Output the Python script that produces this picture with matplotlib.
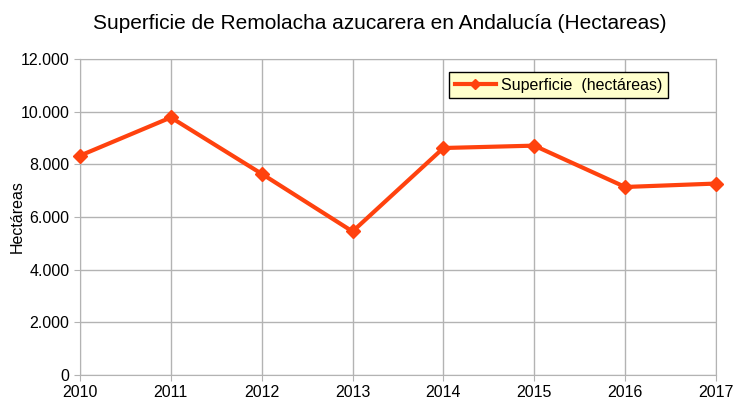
import matplotlib
matplotlib.use('Agg')
import matplotlib.pyplot as plt
from matplotlib.ticker import FuncFormatter

plt.rcParams['font.family'] = ['Liberation Sans', 'DejaVu Sans']

# datos
years = [2010, 2011, 2012, 2013, 2014, 2015, 2016, 2017]
superficie = [8330, 9780, 7640, 5450, 8620, 8710, 7140, 7270]
yticks = [0, 2000, 4000, 6000, 8000, 10000, 12000]

fig = plt.figure(figsize=(7.34, 4.03), dpi=100)
ax = fig.add_axes([80 / 734, 1 - 375 / 403, 636 / 734, 316 / 403])

ax.plot(years, superficie, color='#ff420e', lw=3, marker='D', ms=7,
        label='Superficie  (hectáreas)', clip_on=False, zorder=3)

ax.set_xlim(years[0], years[-1])
ax.set_ylim(0, 12000)
ax.set_xticks(years)
ax.set_yticks(yticks)
ax.yaxis.set_major_formatter(FuncFormatter(lambda v, p: '{:,.0f}'.format(v).replace(',', '.')))
ax.grid(True, color='#b3b3b3', lw=1)
ax.set_axisbelow(True)
for s in ax.spines.values():
    s.set_color('#b3b3b3')
ax.tick_params(colors='#b3b3b3', labelcolor='black', labelsize=11.5, length=4)

ax.set_ylabel('Hectáreas', fontsize=11.5)
ax.yaxis.set_label_coords(-0.087, 0.5)
fig.suptitle('Superficie de Remolacha azucarera en Andalucía (Hectareas)', fontsize=15,
             x=380 / 734, y=0.965)

leg = ax.legend(loc='upper left', bbox_to_anchor=((449 - 80) / 636, (375 - 72) / 316),
                fontsize=11.5, fancybox=False, framealpha=1, borderpad=0.35,
                handlelength=2.6, handletextpad=0.3, borderaxespad=0, markerscale=0.75)
leg.get_frame().set_facecolor('#ffffcc')
leg.get_frame().set_edgecolor('black')

fig.savefig('out.png', dpi=100)
